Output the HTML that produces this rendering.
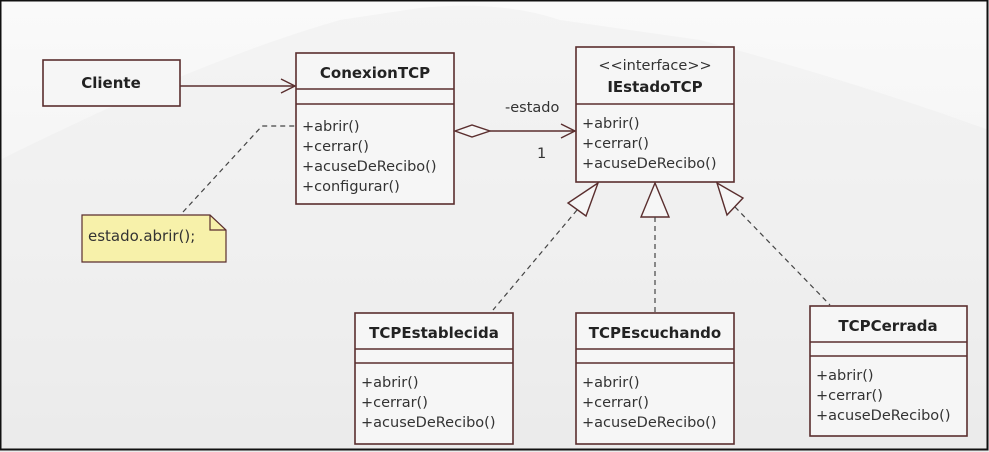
<!DOCTYPE html>
<html><head><meta charset="utf-8"><style>
body{margin:0;width:989px;height:452px;overflow:hidden;background:#fff}
svg{display:block}
text{font-family:"DejaVu Sans","Liberation Sans",sans-serif;fill:#222}
.b{font-weight:bold;font-size:15px}
.m{font-size:14.5px;fill:#333}
</style></head><body>
<svg width="989" height="452" viewBox="0 0 989 452" xmlns="http://www.w3.org/2000/svg">
<defs>
<linearGradient id="bg" x1="0" y1="0" x2="0" y2="1">
<stop offset="0" stop-color="#fafafa"/><stop offset="0.6" stop-color="#f2f2f2"/><stop offset="1" stop-color="#ebebeb"/>
</linearGradient>
</defs>
<rect width="989" height="452" fill="url(#bg)"/>
<path d="M0 160 Q200 60 340 20 L420 8 Q500 0 560 20 L700 40 Q850 80 989 130 L989 452 L0 452Z" fill="#ececec" opacity="0.4"/>
<rect x="0.5" y="0.5" width="987" height="449" fill="none" stroke="#111" stroke-width="2"/>
<g stroke="#5a2e2e" stroke-width="1.6" fill="#f6f6f6">
<rect x="43" y="60" width="137" height="46"/>
<rect x="296" y="53" width="158" height="151"/>
<rect x="576" y="47" width="158" height="135"/>
<rect x="355" y="313" width="158" height="131"/>
<rect x="576" y="313" width="158" height="131"/>
<rect x="810" y="306" width="157" height="130"/>
</g>
<g stroke="#5a2e2e" stroke-width="1.4">
<line x1="296" y1="89" x2="454" y2="89"/><line x1="296" y1="104" x2="454" y2="104"/>
<line x1="576" y1="104" x2="734" y2="104"/>
<line x1="355" y1="349" x2="513" y2="349"/><line x1="355" y1="363" x2="513" y2="363"/>
<line x1="576" y1="349" x2="734" y2="349"/><line x1="576" y1="363" x2="734" y2="363"/>
<line x1="810" y1="342" x2="967" y2="342"/><line x1="810" y1="356" x2="967" y2="356"/>
</g>
<g stroke="#5a2e2e" stroke-width="1.4" fill="none">
<line x1="180" y1="86" x2="295" y2="86"/>
<polyline points="281,79 295,86 281,93"/>
<polygon points="455,131 472,125 490,131 472,137" fill="#f6f6f6"/>
<line x1="490" y1="131" x2="575" y2="131"/>
<polyline points="561,124 575,131 561,138"/>
<polygon points="598,183 568,203 586,216" fill="#f6f6f6"/>
<polygon points="655,183 641,217 669,217" fill="#f6f6f6"/>
<polygon points="717,183 743,198 727,215" fill="#f6f6f6"/>
</g>
<g stroke="#444" stroke-width="1.2" fill="none" stroke-dasharray="5,4">
<line x1="577" y1="210" x2="493" y2="310"/>
<line x1="655" y1="217" x2="655" y2="312"/>
<line x1="735" y1="207" x2="830" y2="305"/>
<polyline points="183,212 262,126 295,126"/>
</g>
<path d="M82 215 L210 215 L226 230 L226 262 L82 262 Z" fill="#f7f1aa" stroke="#5a2e2e" stroke-width="1.2"/>
<polyline points="210,215 210,230 226,230" fill="none" stroke="#5a2e2e" stroke-width="1.2"/>
<text x="88" y="241" class="m" style="font-size:15px">estado.abrir();</text>
<text x="111" y="88" class="b" text-anchor="middle">Cliente</text>
<text x="375" y="78" class="b" text-anchor="middle">ConexionTCP</text>
<text x="302" y="131" class="m">+abrir()</text>
<text x="302" y="151" class="m">+cerrar()</text>
<text x="302" y="171" class="m">+acuseDeRecibo()</text>
<text x="302" y="191" class="m">+configurar()</text>
<text x="655" y="70" class="m" text-anchor="middle">&lt;&lt;interface&gt;&gt;</text>
<text x="655" y="92" class="b" text-anchor="middle">IEstadoTCP</text>
<text x="582" y="128" class="m">+abrir()</text>
<text x="582" y="148" class="m">+cerrar()</text>
<text x="582" y="168" class="m">+acuseDeRecibo()</text>
<text x="505" y="112" class="m">-estado</text>
<text x="537" y="158" class="m">1</text>
<text x="434" y="338" class="b" text-anchor="middle">TCPEstablecida</text>
<text x="361" y="387" class="m">+abrir()</text>
<text x="361" y="407" class="m">+cerrar()</text>
<text x="361" y="427" class="m">+acuseDeRecibo()</text>
<text x="655" y="338" class="b" text-anchor="middle">TCPEscuchando</text>
<text x="582" y="387" class="m">+abrir()</text>
<text x="582" y="407" class="m">+cerrar()</text>
<text x="582" y="427" class="m">+acuseDeRecibo()</text>
<text x="888" y="331" class="b" text-anchor="middle">TCPCerrada</text>
<text x="816" y="380" class="m">+abrir()</text>
<text x="816" y="400" class="m">+cerrar()</text>
<text x="816" y="420" class="m">+acuseDeRecibo()</text>
</svg>
</body></html>
